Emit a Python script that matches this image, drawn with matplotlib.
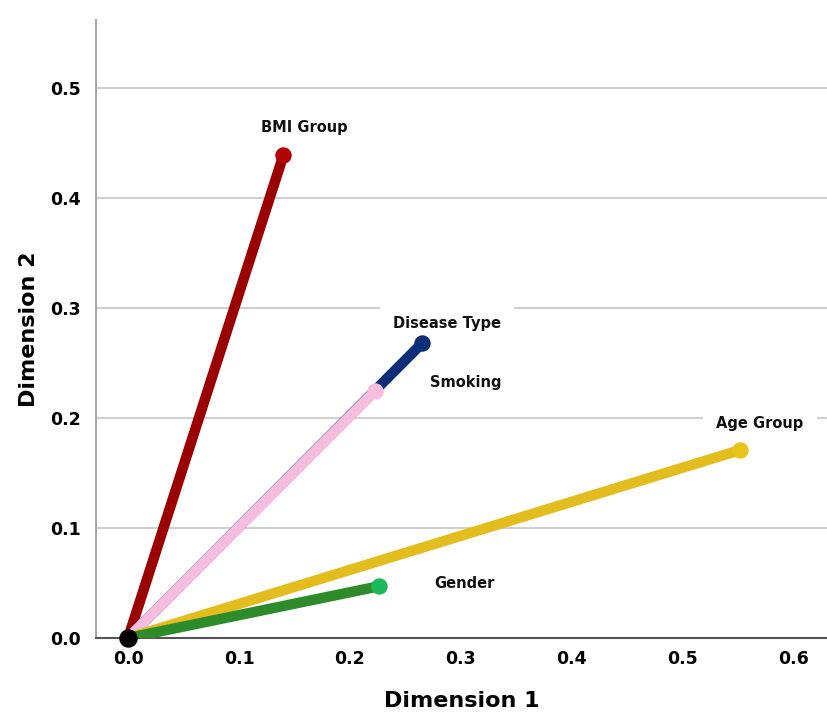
import matplotlib.pyplot as plt

# variable coordinates on the two dimensions
variables = ['BMI Group', 'Disease Type', 'Smoking', 'Age Group', 'Gender']
dim1 = [0.140, 0.265, 0.223, 0.552, 0.226]
dim2 = [0.439, 0.268, 0.225, 0.171, 0.047]

line_colors = ['#9b0000', '#0e2f78', '#f7bddf', '#e3bd1e', '#2e8b2a']
end_colors = ['#b00000', '#0e2f78', '#f7bddf', '#e8c31a', '#1db85c']
# label offsets in points from each end point
label_offsets = [(15, 20), (18, 14), (65, 6), (14, 19), (62, 2)]

fig = plt.figure(figsize=(8.27, 7.15), dpi=100)
ax = fig.add_axes([0.116, 0.1077, 0.884, 0.8643])

for i, name in enumerate(variables):
    ax.plot([0, dim1[i]], [0, dim2[i]], color=line_colors[i], lw=7.5,
            solid_capstyle='round', zorder=3 + i)
    ax.scatter([dim1[i]], [dim2[i]], s=140, color=end_colors[i],
               zorder=3 + i, linewidths=0)
    ax.annotate(name, (dim1[i], dim2[i]), xytext=label_offsets[i],
                textcoords='offset points', ha='center', va='center',
                fontsize=10.5, fontweight='bold', color='#111111',
                bbox=dict(boxstyle='square,pad=0.9', fc='white', ec='none'),
                zorder=2)

ax.scatter([0], [0], s=150, color='black', zorder=20, clip_on=False)

ax.set_xlim(-0.029, 0.63)
ax.set_ylim(0, 0.562)
ax.set_xticks([0.0, 0.1, 0.2, 0.3, 0.4, 0.5, 0.6])
ax.set_yticks([0.0, 0.1, 0.2, 0.3, 0.4, 0.5])
ax.xaxis.set_major_formatter(plt.FormatStrFormatter('%.1f'))
ax.yaxis.set_major_formatter(plt.FormatStrFormatter('%.1f'))
ax.tick_params(length=0, labelsize=12.5)
ax.tick_params(axis='x', pad=9)
ax.tick_params(axis='y', pad=11)
for lbl in ax.get_xticklabels() + ax.get_yticklabels():
    lbl.set_fontweight('bold')

ax.grid(axis='y', color='#d0d0d0', lw=1.5, zorder=0)
ax.set_axisbelow(True)
for s in ['top', 'right']:
    ax.spines[s].set_visible(False)
ax.spines['left'].set_color('#a8a8a8')
ax.spines['left'].set_linewidth(1.5)
ax.spines['bottom'].set_color('#555555')
ax.spines['bottom'].set_linewidth(1.5)

ax.set_xlabel('Dimension 1', fontsize=16, fontweight='bold', labelpad=16)
ax.set_ylabel('Dimension 2', fontsize=16, fontweight='bold', labelpad=8)

fig.savefig('out.png', dpi=100)
